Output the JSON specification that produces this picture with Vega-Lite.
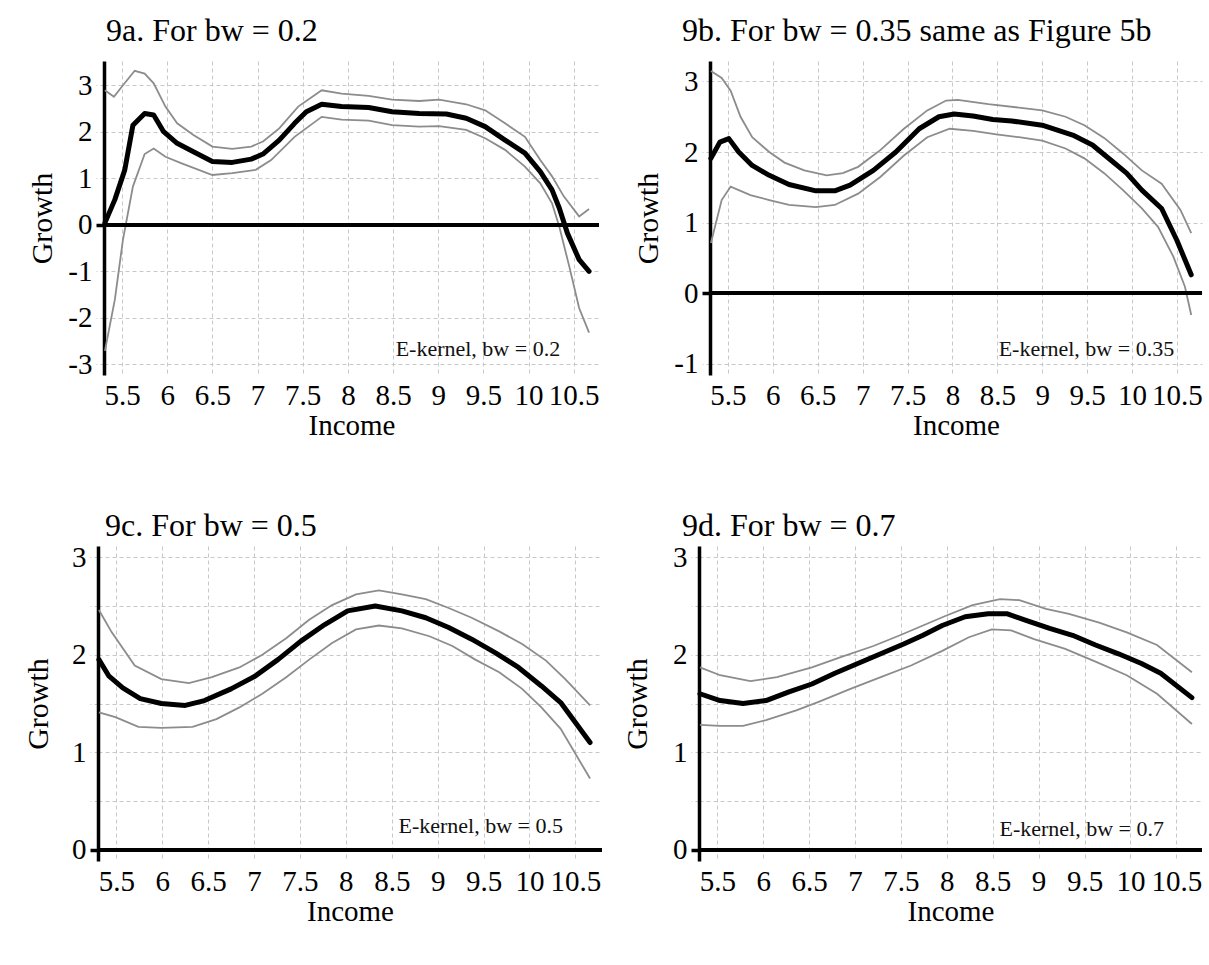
{
  "$schema": "https://vega.github.io/schema/vega-lite/v6.json",
  "background": "white",
  "padding": {"left": 23, "top": 15, "right": 5, "bottom": 5},
  "config": {
    "font": "Liberation Serif",
    "view": {"stroke": null},
    "axis": {
      "labelFont": "Liberation Serif", "labelFontSize": 29, "labelColor": "#000",
      "titleFont": "Liberation Serif", "titleFontSize": 29, "titleFontWeight": "normal", "titleColor": "#000",
      "gridColor": "#c8c8c8", "gridDash": [4, 3], "gridWidth": 1
    },
    "axisY": {"titleFontSize": 30},
    "title": {"font": "Liberation Serif", "fontSize": 32, "fontWeight": "normal", "color": "#000", "anchor": "start", "frame": "group", "baseline": "alphabetic"}
  },
  "datasets": {
    "a": [
      {"x":5.31,"y":0.04,"s":"est"},{"x":5.42,"y":0.54,"s":"est"},{"x":5.53,"y":1.18,"s":"est"},{"x":5.62,"y":2.14,"s":"est"},{"x":5.75,"y":2.39,"s":"est"},{"x":5.85,"y":2.36,"s":"est"},{"x":5.96,"y":2.0,"s":"est"},{"x":6.11,"y":1.75,"s":"est"},{"x":6.29,"y":1.57,"s":"est"},{"x":6.5,"y":1.36,"s":"est"},{"x":6.72,"y":1.34,"s":"est"},{"x":6.93,"y":1.41,"s":"est"},{"x":7.06,"y":1.52,"s":"est"},{"x":7.24,"y":1.82,"s":"est"},{"x":7.41,"y":2.18,"s":"est"},{"x":7.54,"y":2.43,"s":"est"},{"x":7.71,"y":2.59,"s":"est"},{"x":7.93,"y":2.54,"s":"est"},{"x":8.23,"y":2.52,"s":"est"},{"x":8.49,"y":2.43,"s":"est"},{"x":8.79,"y":2.39,"s":"est"},{"x":9.09,"y":2.38,"s":"est"},{"x":9.31,"y":2.29,"s":"est"},{"x":9.52,"y":2.11,"s":"est"},{"x":9.74,"y":1.82,"s":"est"},{"x":9.96,"y":1.54,"s":"est"},{"x":10.13,"y":1.14,"s":"est"},{"x":10.26,"y":0.75,"s":"est"},{"x":10.34,"y":0.36,"s":"est"},{"x":10.43,"y":-0.18,"s":"est"},{"x":10.56,"y":-0.75,"s":"est"},{"x":10.67,"y":-1.0,"s":"est"},
      {"x":5.31,"y":2.89,"s":"upper"},{"x":5.41,"y":2.75,"s":"upper"},{"x":5.51,"y":3.0,"s":"upper"},{"x":5.64,"y":3.31,"s":"upper"},{"x":5.75,"y":3.25,"s":"upper"},{"x":5.85,"y":3.04,"s":"upper"},{"x":5.98,"y":2.54,"s":"upper"},{"x":6.11,"y":2.18,"s":"upper"},{"x":6.29,"y":1.93,"s":"upper"},{"x":6.5,"y":1.68,"s":"upper"},{"x":6.72,"y":1.63,"s":"upper"},{"x":6.93,"y":1.68,"s":"upper"},{"x":7.06,"y":1.79,"s":"upper"},{"x":7.24,"y":2.07,"s":"upper"},{"x":7.45,"y":2.54,"s":"upper"},{"x":7.71,"y":2.89,"s":"upper"},{"x":7.93,"y":2.82,"s":"upper"},{"x":8.23,"y":2.77,"s":"upper"},{"x":8.49,"y":2.69,"s":"upper"},{"x":8.79,"y":2.66,"s":"upper"},{"x":9.01,"y":2.69,"s":"upper"},{"x":9.31,"y":2.59,"s":"upper"},{"x":9.52,"y":2.46,"s":"upper"},{"x":9.74,"y":2.18,"s":"upper"},{"x":9.96,"y":1.89,"s":"upper"},{"x":10.13,"y":1.39,"s":"upper"},{"x":10.26,"y":1.04,"s":"upper"},{"x":10.39,"y":0.61,"s":"upper"},{"x":10.56,"y":0.18,"s":"upper"},{"x":10.67,"y":0.34,"s":"upper"},
      {"x":5.31,"y":-2.71,"s":"lower"},{"x":5.42,"y":-1.61,"s":"lower"},{"x":5.51,"y":-0.32,"s":"lower"},{"x":5.62,"y":0.82,"s":"lower"},{"x":5.75,"y":1.52,"s":"lower"},{"x":5.85,"y":1.64,"s":"lower"},{"x":5.98,"y":1.46,"s":"lower"},{"x":6.16,"y":1.32,"s":"lower"},{"x":6.5,"y":1.07,"s":"lower"},{"x":6.72,"y":1.11,"s":"lower"},{"x":6.98,"y":1.18,"s":"lower"},{"x":7.15,"y":1.39,"s":"lower"},{"x":7.41,"y":1.89,"s":"lower"},{"x":7.71,"y":2.32,"s":"lower"},{"x":7.93,"y":2.26,"s":"lower"},{"x":8.23,"y":2.24,"s":"lower"},{"x":8.49,"y":2.14,"s":"lower"},{"x":8.79,"y":2.11,"s":"lower"},{"x":9.01,"y":2.12,"s":"lower"},{"x":9.31,"y":2.04,"s":"lower"},{"x":9.52,"y":1.86,"s":"lower"},{"x":9.74,"y":1.61,"s":"lower"},{"x":9.96,"y":1.25,"s":"lower"},{"x":10.13,"y":0.89,"s":"lower"},{"x":10.26,"y":0.46,"s":"lower"},{"x":10.34,"y":-0.04,"s":"lower"},{"x":10.45,"y":-0.89,"s":"lower"},{"x":10.56,"y":-1.79,"s":"lower"},{"x":10.67,"y":-2.32,"s":"lower"}
    ],
    "b": [
      {"x":5.31,"y":1.91,"s":"est"},{"x":5.41,"y":2.14,"s":"est"},{"x":5.51,"y":2.19,"s":"est"},{"x":5.62,"y":2.0,"s":"est"},{"x":5.77,"y":1.81,"s":"est"},{"x":5.96,"y":1.67,"s":"est"},{"x":6.18,"y":1.54,"s":"est"},{"x":6.48,"y":1.45,"s":"est"},{"x":6.69,"y":1.45,"s":"est"},{"x":6.86,"y":1.53,"s":"est"},{"x":7.12,"y":1.74,"s":"est"},{"x":7.37,"y":2.0,"s":"est"},{"x":7.63,"y":2.33,"s":"est"},{"x":7.85,"y":2.5,"s":"est"},{"x":8.02,"y":2.54,"s":"est"},{"x":8.23,"y":2.51,"s":"est"},{"x":8.45,"y":2.46,"s":"est"},{"x":8.66,"y":2.44,"s":"est"},{"x":9.0,"y":2.38,"s":"est"},{"x":9.34,"y":2.24,"s":"est"},{"x":9.56,"y":2.1,"s":"est"},{"x":9.77,"y":1.88,"s":"est"},{"x":9.94,"y":1.7,"s":"est"},{"x":10.11,"y":1.46,"s":"est"},{"x":10.33,"y":1.2,"s":"est"},{"x":10.5,"y":0.75,"s":"est"},{"x":10.66,"y":0.26,"s":"est"},
      {"x":5.31,"y":3.15,"s":"upper"},{"x":5.43,"y":3.05,"s":"upper"},{"x":5.53,"y":2.87,"s":"upper"},{"x":5.64,"y":2.5,"s":"upper"},{"x":5.77,"y":2.21,"s":"upper"},{"x":5.96,"y":2.0,"s":"upper"},{"x":6.13,"y":1.85,"s":"upper"},{"x":6.35,"y":1.74,"s":"upper"},{"x":6.6,"y":1.67,"s":"upper"},{"x":6.78,"y":1.7,"s":"upper"},{"x":6.95,"y":1.79,"s":"upper"},{"x":7.2,"y":2.03,"s":"upper"},{"x":7.46,"y":2.33,"s":"upper"},{"x":7.72,"y":2.59,"s":"upper"},{"x":7.93,"y":2.73,"s":"upper"},{"x":8.06,"y":2.74,"s":"upper"},{"x":8.4,"y":2.68,"s":"upper"},{"x":8.74,"y":2.63,"s":"upper"},{"x":9.0,"y":2.59,"s":"upper"},{"x":9.26,"y":2.5,"s":"upper"},{"x":9.47,"y":2.38,"s":"upper"},{"x":9.69,"y":2.2,"s":"upper"},{"x":9.9,"y":1.98,"s":"upper"},{"x":10.11,"y":1.74,"s":"upper"},{"x":10.33,"y":1.55,"s":"upper"},{"x":10.54,"y":1.18,"s":"upper"},{"x":10.66,"y":0.85,"s":"upper"},
      {"x":5.31,"y":0.71,"s":"lower"},{"x":5.43,"y":1.32,"s":"lower"},{"x":5.53,"y":1.51,"s":"lower"},{"x":5.75,"y":1.39,"s":"lower"},{"x":5.96,"y":1.32,"s":"lower"},{"x":6.18,"y":1.25,"s":"lower"},{"x":6.48,"y":1.22,"s":"lower"},{"x":6.69,"y":1.25,"s":"lower"},{"x":6.95,"y":1.41,"s":"lower"},{"x":7.2,"y":1.65,"s":"lower"},{"x":7.46,"y":1.95,"s":"lower"},{"x":7.72,"y":2.21,"s":"lower"},{"x":7.97,"y":2.33,"s":"lower"},{"x":8.23,"y":2.3,"s":"lower"},{"x":8.49,"y":2.25,"s":"lower"},{"x":8.74,"y":2.21,"s":"lower"},{"x":9.0,"y":2.16,"s":"lower"},{"x":9.26,"y":2.05,"s":"lower"},{"x":9.47,"y":1.91,"s":"lower"},{"x":9.69,"y":1.7,"s":"lower"},{"x":9.9,"y":1.46,"s":"lower"},{"x":10.11,"y":1.2,"s":"lower"},{"x":10.29,"y":0.94,"s":"lower"},{"x":10.46,"y":0.52,"s":"lower"},{"x":10.59,"y":0.09,"s":"lower"},{"x":10.66,"y":-0.31,"s":"lower"}
    ],
    "c": [
      {"x":5.31,"y":1.95,"s":"est"},{"x":5.42,"y":1.78,"s":"est"},{"x":5.57,"y":1.66,"s":"est"},{"x":5.76,"y":1.55,"s":"est"},{"x":5.99,"y":1.5,"s":"est"},{"x":6.25,"y":1.48,"s":"est"},{"x":6.46,"y":1.53,"s":"est"},{"x":6.75,"y":1.65,"s":"est"},{"x":7.01,"y":1.78,"s":"est"},{"x":7.26,"y":1.95,"s":"est"},{"x":7.51,"y":2.14,"s":"est"},{"x":7.77,"y":2.31,"s":"est"},{"x":8.02,"y":2.45,"s":"est"},{"x":8.32,"y":2.5,"s":"est"},{"x":8.61,"y":2.45,"s":"est"},{"x":8.87,"y":2.38,"s":"est"},{"x":9.12,"y":2.28,"s":"est"},{"x":9.37,"y":2.16,"s":"est"},{"x":9.63,"y":2.02,"s":"est"},{"x":9.88,"y":1.87,"s":"est"},{"x":10.13,"y":1.68,"s":"est"},{"x":10.34,"y":1.51,"s":"est"},{"x":10.66,"y":1.1,"s":"est"},
      {"x":5.31,"y":2.46,"s":"upper"},{"x":5.45,"y":2.23,"s":"upper"},{"x":5.7,"y":1.89,"s":"upper"},{"x":5.99,"y":1.75,"s":"upper"},{"x":6.29,"y":1.71,"s":"upper"},{"x":6.54,"y":1.77,"s":"upper"},{"x":6.84,"y":1.87,"s":"upper"},{"x":7.09,"y":2.0,"s":"upper"},{"x":7.35,"y":2.17,"s":"upper"},{"x":7.6,"y":2.36,"s":"upper"},{"x":7.85,"y":2.51,"s":"upper"},{"x":8.11,"y":2.62,"s":"upper"},{"x":8.36,"y":2.66,"s":"upper"},{"x":8.61,"y":2.62,"s":"upper"},{"x":8.87,"y":2.57,"s":"upper"},{"x":9.12,"y":2.48,"s":"upper"},{"x":9.37,"y":2.38,"s":"upper"},{"x":9.67,"y":2.24,"s":"upper"},{"x":9.92,"y":2.11,"s":"upper"},{"x":10.18,"y":1.94,"s":"upper"},{"x":10.39,"y":1.75,"s":"upper"},{"x":10.66,"y":1.48,"s":"upper"},
      {"x":5.31,"y":1.41,"s":"lower"},{"x":5.49,"y":1.36,"s":"lower"},{"x":5.74,"y":1.26,"s":"lower"},{"x":5.99,"y":1.25,"s":"lower"},{"x":6.33,"y":1.26,"s":"lower"},{"x":6.59,"y":1.34,"s":"lower"},{"x":6.84,"y":1.46,"s":"lower"},{"x":7.09,"y":1.6,"s":"lower"},{"x":7.35,"y":1.77,"s":"lower"},{"x":7.6,"y":1.95,"s":"lower"},{"x":7.85,"y":2.12,"s":"lower"},{"x":8.11,"y":2.26,"s":"lower"},{"x":8.36,"y":2.3,"s":"lower"},{"x":8.61,"y":2.27,"s":"lower"},{"x":8.91,"y":2.19,"s":"lower"},{"x":9.16,"y":2.09,"s":"lower"},{"x":9.41,"y":1.95,"s":"lower"},{"x":9.67,"y":1.82,"s":"lower"},{"x":9.92,"y":1.65,"s":"lower"},{"x":10.13,"y":1.46,"s":"lower"},{"x":10.34,"y":1.24,"s":"lower"},{"x":10.66,"y":0.73,"s":"lower"}
    ],
    "d": [
      {"x":5.31,"y":1.6,"s":"est"},{"x":5.53,"y":1.53,"s":"est"},{"x":5.78,"y":1.5,"s":"est"},{"x":6.03,"y":1.53,"s":"est"},{"x":6.28,"y":1.62,"s":"est"},{"x":6.53,"y":1.7,"s":"est"},{"x":6.78,"y":1.81,"s":"est"},{"x":7.03,"y":1.91,"s":"est"},{"x":7.28,"y":2.01,"s":"est"},{"x":7.53,"y":2.11,"s":"est"},{"x":7.74,"y":2.2,"s":"est"},{"x":7.95,"y":2.3,"s":"est"},{"x":8.2,"y":2.39,"s":"est"},{"x":8.45,"y":2.42,"s":"est"},{"x":8.66,"y":2.42,"s":"est"},{"x":8.87,"y":2.35,"s":"est"},{"x":9.12,"y":2.27,"s":"est"},{"x":9.37,"y":2.2,"s":"est"},{"x":9.62,"y":2.1,"s":"est"},{"x":9.87,"y":2.01,"s":"est"},{"x":10.12,"y":1.91,"s":"est"},{"x":10.33,"y":1.81,"s":"est"},{"x":10.67,"y":1.56,"s":"est"},
      {"x":5.31,"y":1.87,"s":"upper"},{"x":5.53,"y":1.79,"s":"upper"},{"x":5.86,"y":1.73,"s":"upper"},{"x":6.15,"y":1.77,"s":"upper"},{"x":6.53,"y":1.87,"s":"upper"},{"x":6.86,"y":1.98,"s":"upper"},{"x":7.2,"y":2.09,"s":"upper"},{"x":7.49,"y":2.2,"s":"upper"},{"x":7.74,"y":2.3,"s":"upper"},{"x":7.99,"y":2.4,"s":"upper"},{"x":8.28,"y":2.51,"s":"upper"},{"x":8.58,"y":2.57,"s":"upper"},{"x":8.79,"y":2.56,"s":"upper"},{"x":9.08,"y":2.47,"s":"upper"},{"x":9.33,"y":2.42,"s":"upper"},{"x":9.66,"y":2.33,"s":"upper"},{"x":9.96,"y":2.23,"s":"upper"},{"x":10.29,"y":2.1,"s":"upper"},{"x":10.67,"y":1.82,"s":"upper"},
      {"x":5.31,"y":1.28,"s":"lower"},{"x":5.53,"y":1.27,"s":"lower"},{"x":5.78,"y":1.27,"s":"lower"},{"x":6.03,"y":1.33,"s":"lower"},{"x":6.36,"y":1.43,"s":"lower"},{"x":6.61,"y":1.52,"s":"lower"},{"x":6.95,"y":1.65,"s":"lower"},{"x":7.28,"y":1.77,"s":"lower"},{"x":7.61,"y":1.89,"s":"lower"},{"x":7.95,"y":2.04,"s":"lower"},{"x":8.24,"y":2.18,"s":"lower"},{"x":8.49,"y":2.26,"s":"lower"},{"x":8.7,"y":2.25,"s":"lower"},{"x":8.95,"y":2.16,"s":"lower"},{"x":9.29,"y":2.06,"s":"lower"},{"x":9.62,"y":1.93,"s":"lower"},{"x":9.96,"y":1.79,"s":"lower"},{"x":10.29,"y":1.6,"s":"lower"},{"x":10.67,"y":1.29,"s":"lower"}
    ],
    "notes": [
      {"panel":"a","x":10.35,"y":-2.83,"label":"E-kernel, bw = 0.2"},
      {"panel":"b","x":10.47,"y":-0.89,"label":"E-kernel, bw = 0.35"},
      {"panel":"c","x":10.365,"y":0.17,"label":"E-kernel, bw = 0.5"},
      {"panel":"d","x":10.366,"y":0.136,"label":"E-kernel, bw = 0.7"}
    ]
  },
  "vconcat": [
    {
      "hconcat": [
        {
          "width": 6, "height": 6,
          "data": {"values": [{"v": 0}]},
          "mark": {"type": "point", "opacity": 0, "size": 1},
          "encoding": {}
        },
        {
          "hconcat": [
            {
              "width": 495, "height": 314,
              "title": {"text": "9a. For bw = 0.2", "dx": 2, "offset": 13},
              "data": {"name": "a"},
              "layer": [
                {
                  "transform": [{"filter": "datum.s !== 'est'"}],
                  "mark": {"type": "line", "color": "#8c8c8c", "strokeWidth": 1.8},
                  "encoding": {
                    "x": {"field": "x", "type": "quantitative", "scale": {"domain": [5.3, 10.78], "nice": false, "zero": false},
                      "axis": {"title": "Income", "values": [5.5,6,6.5,7,7.5,8,8.5,9,9.5,10,10.5], "labelExpr": "'' + datum.value", "domain": false, "ticks": false, "tickSize": 0, "labelPadding": 6, "labelOverlap": false, "labelFlush": false, "titleY": 36, "titleBaseline": "top"}},
                    "y": {"field": "y", "type": "quantitative", "scale": {"domain": [-3.23, 3.52], "nice": false, "zero": false},
                      "axis": {"title": "Growth", "values": [-3,-2,-1,0,1,2,3], "labelExpr": "'' + datum.value", "domainColor": "#000", "domainWidth": 3.5, "tickSize": 8, "labelPadding": 4,
                        "tickColor": {"condition": {"test": "datum.value === 0", "value": "#000"}, "value": "#c8c8c8"},
                        "tickWidth": {"condition": {"test": "datum.value === 0", "value": 3.5}, "value": 1},
                        "tickDash": {"condition": {"test": "datum.value === 0", "value": []}, "value": [4, 3]},
                        "titleX": -53, "titleBaseline": "alphabetic"}},
                    "detail": {"field": "s"}
                  }
                },
                {
                  "mark": {"type": "rule", "color": "#000", "strokeWidth": 3.5},
                  "encoding": {"y": {"datum": 0, "type": "quantitative"}}
                },
                {
                  "transform": [{"filter": "datum.s === 'est'"}],
                  "mark": {"type": "line", "color": "#000", "strokeWidth": 5, "strokeJoin": "round", "strokeCap": "round"},
                  "encoding": {"x": {"field": "x", "type": "quantitative"}, "y": {"field": "y", "type": "quantitative"}}
                },
                {
                  "data": {"name": "notes"},
                  "transform": [{"filter": "datum.panel === 'a'"}],
                  "mark": {"type": "text", "align": "right", "baseline": "alphabetic", "font": "Liberation Serif", "fontSize": 22, "color": "#111"},
                  "encoding": {"x": {"field": "x", "type": "quantitative"}, "y": {"field": "y", "type": "quantitative"}, "text": {"field": "label"}}
                }
              ]
            },
            {
              "width": 492, "height": 314,
              "title": {"text": "9b. For bw = 0.35 same as Figure 5b", "dx": -28, "offset": 13},
              "data": {"name": "b"},
              "layer": [
                {
                  "transform": [{"filter": "datum.s !== 'est'"}],
                  "mark": {"type": "line", "color": "#8c8c8c", "strokeWidth": 1.8},
                  "encoding": {
                    "x": {"field": "x", "type": "quantitative", "scale": {"domain": [5.3, 10.78], "nice": false, "zero": false},
                      "axis": {"title": "Income", "values": [5.5,6,6.5,7,7.5,8,8.5,9,9.5,10,10.5], "labelExpr": "'' + datum.value", "domain": false, "ticks": false, "tickSize": 0, "labelPadding": 6, "labelOverlap": false, "labelFlush": false, "titleY": 36, "titleBaseline": "top"}},
                    "y": {"field": "y", "type": "quantitative", "scale": {"domain": [-1.16, 3.29], "nice": false, "zero": false},
                      "axis": {"title": "Growth", "values": [-1,0,1,2,3], "labelExpr": "'' + datum.value", "domainColor": "#000", "domainWidth": 3.5, "tickSize": 8, "labelPadding": 4,
                        "tickColor": {"condition": {"test": "datum.value === 0", "value": "#000"}, "value": "#c8c8c8"},
                        "tickWidth": {"condition": {"test": "datum.value === 0", "value": 3.5}, "value": 1},
                        "tickDash": {"condition": {"test": "datum.value === 0", "value": []}, "value": [4, 3]},
                        "titleX": -53, "titleBaseline": "alphabetic"}},
                    "detail": {"field": "s"}
                  }
                },
                {
                  "mark": {"type": "rule", "color": "#000", "strokeWidth": 3.5},
                  "encoding": {"y": {"datum": 0, "type": "quantitative"}}
                },
                {
                  "transform": [{"filter": "datum.s === 'est'"}],
                  "mark": {"type": "line", "color": "#000", "strokeWidth": 5, "strokeJoin": "round", "strokeCap": "round"},
                  "encoding": {"x": {"field": "x", "type": "quantitative"}, "y": {"field": "y", "type": "quantitative"}}
                },
                {
                  "data": {"name": "notes"},
                  "transform": [{"filter": "datum.panel === 'b'"}],
                  "mark": {"type": "text", "align": "right", "baseline": "alphabetic", "font": "Liberation Serif", "fontSize": 22, "color": "#111"},
                  "encoding": {"x": {"field": "x", "type": "quantitative"}, "y": {"field": "y", "type": "quantitative"}, "text": {"field": "label"}}
                }
              ]
            }
          ],
          "spacing": 111,
          "bounds": "flush"
        }
      ],
      "spacing": 0,
      "bounds": "flush"
    },
    {
      "hconcat": [
        {
          "width": 504, "height": 315,
          "title": {"text": "9c. For bw = 0.5", "dx": 7, "offset": 0},
          "data": {"name": "c"},
          "layer": [
            {
              "transform": [{"filter": "datum.s !== 'est'"}],
              "mark": {"type": "line", "color": "#8c8c8c", "strokeWidth": 1.8},
              "encoding": {
                "x": {"field": "x", "type": "quantitative", "scale": {"domain": [5.3, 10.79], "nice": false, "zero": false},
                  "axis": {"title": "Income", "values": [5.5,6,6.5,7,7.5,8,8.5,9,9.5,10,10.5], "labelExpr": "'' + datum.value", "domain": false, "ticks": false, "tickSize": 0, "labelPadding": 6, "labelOverlap": false, "labelFlush": false, "titleY": 36, "titleBaseline": "top"}},
                "y": {"field": "y", "type": "quantitative", "scale": {"domain": [-0.116, 3.116], "nice": false, "zero": false},
                  "axis": {"title": "Growth", "values": [0,0.5,1,1.5,2,2.5,3], "labelExpr": "datum.value % 1 === 0 ? '' + datum.value : ''", "domainColor": "#000", "domainWidth": 3.5, "tickSize": 8, "labelPadding": 4,
                    "tickColor": {"condition": {"test": "datum.value === 0", "value": "#000"}, "value": "#c8c8c8"},
                    "tickWidth": {"condition": {"test": "datum.value === 0", "value": 3.5}, "value": 1},
                    "tickDash": {"condition": {"test": "datum.value === 0", "value": []}, "value": [4, 3]},
                    "titleX": -51, "titleBaseline": "alphabetic"}},
                "detail": {"field": "s"}
              }
            },
            {
              "mark": {"type": "rule", "color": "#000", "strokeWidth": 3.5},
              "encoding": {"y": {"datum": 0, "type": "quantitative"}}
            },
            {
              "transform": [{"filter": "datum.s === 'est'"}],
              "mark": {"type": "line", "color": "#000", "strokeWidth": 5, "strokeJoin": "round", "strokeCap": "round"},
              "encoding": {"x": {"field": "x", "type": "quantitative"}, "y": {"field": "y", "type": "quantitative"}}
            },
            {
              "data": {"name": "notes"},
              "transform": [{"filter": "datum.panel === 'c'"}],
              "mark": {"type": "text", "align": "right", "baseline": "alphabetic", "font": "Liberation Serif", "fontSize": 22, "color": "#111"},
              "encoding": {"x": {"field": "x", "type": "quantitative"}, "y": {"field": "y", "type": "quantitative"}, "text": {"field": "label"}}
            }
          ]
        },
        {
          "width": 503, "height": 315,
          "title": {"text": "9d. For bw = 0.7", "dx": -17, "offset": 0},
          "data": {"name": "d"},
          "layer": [
            {
              "transform": [{"filter": "datum.s !== 'est'"}],
              "mark": {"type": "line", "color": "#8c8c8c", "strokeWidth": 1.8},
              "encoding": {
                "x": {"field": "x", "type": "quantitative", "scale": {"domain": [5.3, 10.78], "nice": false, "zero": false},
                  "axis": {"title": "Income", "values": [5.5,6,6.5,7,7.5,8,8.5,9,9.5,10,10.5], "labelExpr": "'' + datum.value", "domain": false, "ticks": false, "tickSize": 0, "labelPadding": 6, "labelOverlap": false, "labelFlush": false, "titleY": 36, "titleBaseline": "top"}},
                "y": {"field": "y", "type": "quantitative", "scale": {"domain": [-0.116, 3.116], "nice": false, "zero": false},
                  "axis": {"title": "Growth", "values": [0,0.5,1,1.5,2,2.5,3], "labelExpr": "datum.value % 1 === 0 ? '' + datum.value : ''", "domainColor": "#000", "domainWidth": 3.5, "tickSize": 8, "labelPadding": 4,
                    "tickColor": {"condition": {"test": "datum.value === 0", "value": "#000"}, "value": "#c8c8c8"},
                    "tickWidth": {"condition": {"test": "datum.value === 0", "value": 3.5}, "value": 1},
                    "tickDash": {"condition": {"test": "datum.value === 0", "value": []}, "value": [4, 3]},
                    "titleX": -53, "titleBaseline": "alphabetic"}},
                "detail": {"field": "s"}
              }
            },
            {
              "mark": {"type": "rule", "color": "#000", "strokeWidth": 3.5},
              "encoding": {"y": {"datum": 0, "type": "quantitative"}}
            },
            {
              "transform": [{"filter": "datum.s === 'est'"}],
              "mark": {"type": "line", "color": "#000", "strokeWidth": 5, "strokeJoin": "round", "strokeCap": "round"},
              "encoding": {"x": {"field": "x", "type": "quantitative"}, "y": {"field": "y", "type": "quantitative"}}
            },
            {
              "data": {"name": "notes"},
              "transform": [{"filter": "datum.panel === 'd'"}],
              "mark": {"type": "text", "align": "right", "baseline": "alphabetic", "font": "Liberation Serif", "fontSize": 22, "color": "#111"},
              "encoding": {"x": {"field": "x", "type": "quantitative"}, "y": {"field": "y", "type": "quantitative"}, "text": {"field": "label"}}
            }
          ]
        }
      ],
      "spacing": 97,
      "bounds": "flush"
    }
  ],
  "spacing": 70,
  "align": "none"
}
